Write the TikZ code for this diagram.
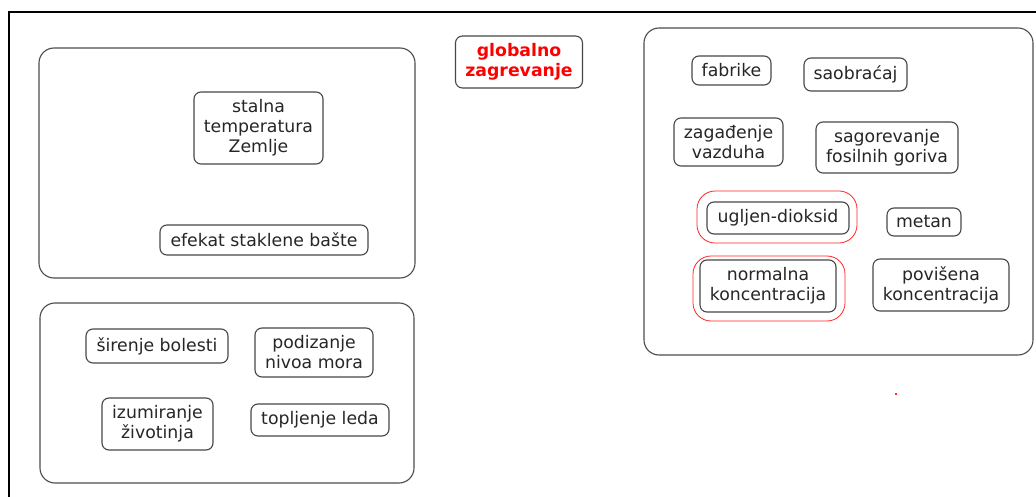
\documentclass[tikz,border=0pt]{standalone}
\usepackage{fontspec}
\setmainfont{DejaVu Sans}
\begin{document}
\begin{tikzpicture}[x=1pt,y=-1pt,
  every node/.style={inner sep=0pt,align=center,font=\fontsize{17.3}{20}\selectfont,text=black!85},
  group/.style={draw=black!70,line width=1.1pt,rounded corners=15pt},
  item/.style={draw=black!72,line width=1.1pt,rounded corners=7pt,fill=white},
  halo/.style={draw=red!85,line width=0.8pt,rounded corners=18pt},
  title/.style={item,text=red,font=\fontsize{17.3}{20}\selectfont\bfseries}]
\useasboundingbox (0,0) rectangle (1036,497);
\fill[white] (0,0) rectangle (1036,497);
% outer frame, open at right and bottom
\draw[line width=2.2pt,line cap=rect] (9,497) -- (9,12) -- (1036,12);

% group boxes
\node[group,minimum width=376pt,minimum height=230pt] (climate) at (227,163) {};
\node[group,minimum width=389pt,minimum height=327pt] (causes) at (838.5,191.5) {};
\node[group,minimum width=374pt,minimum height=180pt] (effects) at (227,393) {};

% highlight rings
\node[halo,minimum width=160pt,minimum height=52pt] (ringco) at (777,217) {};
\node[halo,minimum width=152pt,minimum height=65pt] (ringnorm) at (769,288.5) {};

% title
\node[title,minimum width=127pt,minimum height=52pt] (title) at (519,62) {globalno\\zagrevanje};

% climate group
\node[item,minimum width=129pt,minimum height=72pt] (stalna) at (258.5,128) {stalna\\temperatura\\Zemlje};
\node[item,minimum width=208pt,minimum height=30pt] (efekat) at (264,240) {efekat staklene bašte};

% causes group
\node[item,minimum width=79pt,minimum height=29pt] (fabrike) at (731.5,70.5) {fabrike};
\node[item,minimum width=103pt,minimum height=33pt] (saobracaj) at (855.5,74.5) {saobraćaj};
\node[item,minimum width=109pt,minimum height=48pt] (zagadjenje) at (728.5,142) {zagađenje\\vazduha};
\node[item,minimum width=142pt,minimum height=51pt] (sagorevanje) at (887,147.5) {sagorevanje\\fosilnih goriva};
\node[item,minimum width=142pt,minimum height=32pt] (ugljen) at (778,218) {ugljen-dioksid};
\node[item,minimum width=74pt,minimum height=28pt] (metan) at (924,222) {metan};
\node[item,minimum width=136pt,minimum height=52pt] (normalna) at (768,286) {normalna\\koncentracija};
\node[item,minimum width=136pt,minimum height=52pt] (povisena) at (941,285) {povišena\\koncentracija};

% effects group
\node[item,minimum width=142pt,minimum height=34pt] (sirenje) at (157,346) {širenje bolesti};
\node[item,minimum width=118pt,minimum height=49pt] (podizanje) at (314,352.5) {podizanje\\nivoa mora};
\node[item,minimum width=111pt,minimum height=52pt] (izumiranje) at (157.5,424) {izumiranje\\životinja};
\node[item,minimum width=138pt,minimum height=32pt] (topljenje) at (320,420) {topljenje leda};

% stray mark
\fill[red!85] (895,393) rectangle (897,395);
\end{tikzpicture}
\end{document}
